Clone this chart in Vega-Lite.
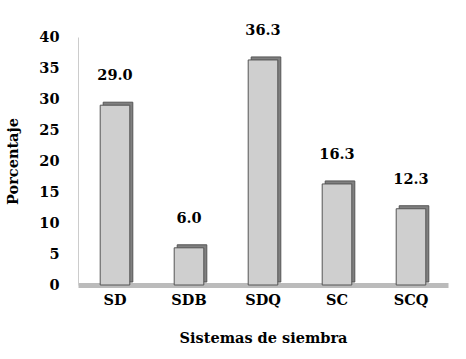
{
  "$schema": "https://vega.github.io/schema/vega-lite/v6.json",
  "width": 370,
  "height": 248,
  "padding": {"left": 78, "top": 37, "right": 18, "bottom": 74},
  "autosize": {"type": "none"},
  "background": "white",
  "config": {
    "view": {"stroke": null},
    "font": "DejaVu Serif",
    "axis": {"labelFont": "DejaVu Serif", "titleFont": "DejaVu Serif", "labelFontWeight": "bold", "titleFontWeight": "bold", "labelColor": "black", "titleColor": "black", "grid": false, "ticks": false}
  },
  "data": {"values": [
    {"sistema": "SD", "pct": 29.0},
    {"sistema": "SDB", "pct": 6.0},
    {"sistema": "SDQ", "pct": 36.3},
    {"sistema": "SC", "pct": 16.3},
    {"sistema": "SCQ", "pct": 12.3}
  ]},
  "encoding": {
    "x": {"field": "sistema", "type": "nominal", "sort": null,
      "scale": {"paddingInner": 0.6, "paddingOuter": 0.3},
      "axis": {"title": "Sistemas de siembra", "labelAngle": 0, "labelFontSize": 14.5, "titleFontSize": 14.5, "labelPadding": 8, "titlePadding": 25, "domainColor": "#bbbbbb", "domainWidth": 5}},
    "y": {"field": "pct", "type": "quantitative",
      "scale": {"domain": [0, 40]},
      "axis": {"title": "Porcentaje", "values": [0,5,10,15,20,25,30,35,40], "labelFontSize": 14.5, "titleFontSize": 14.5, "labelPadding": 19, "titlePadding": 18, "domainColor": "#cccccc"}}
  },
  "layer": [
    {"mark": {"type": "bar", "color": "#808080", "stroke": "#555555", "strokeWidth": 1, "xOffset": 3, "yOffset": -3, "y2Offset": -3}},
    {"mark": {"type": "bar", "color": "#cfcfcf", "stroke": "#555555", "strokeWidth": 1}},
    {"mark": {"type": "text", "baseline": "bottom", "dy": -22, "fontSize": 14.5, "fontWeight": "bold", "color": "black", "font": "DejaVu Serif"},
      "encoding": {"text": {"field": "pct", "type": "quantitative", "format": ".1f"}}}
  ]
}
